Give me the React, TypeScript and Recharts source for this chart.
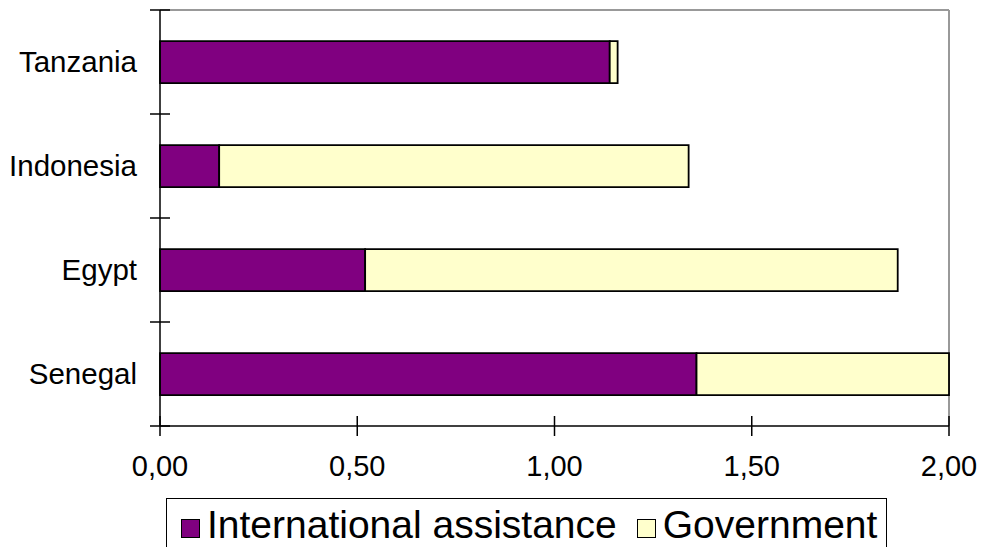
import { BarChart, Bar, XAxis, YAxis, Legend, CartesianGrid } from 'recharts';

const countries = ['Tanzania', 'Indonesia', 'Egypt', 'Senegal'];
const international = [1.14, 0.15, 0.52, 1.36];
const government = [0.02, 1.19, 1.35, 0.64];
const valueTicks = [0, 0.5, 1, 1.5, 2];
const legendOrder = ['International assistance', 'Government'];

const data = countries.map((country, i) => ({
  country,
  international: international[i],
  government: government[i],
}));

const FONT = '"Liberation Sans", Arial, sans-serif';

const fmt = (v: number) => v.toFixed(2).replace('.', ',');

// Excel-style: label at band centre, crossing ticks at band boundaries
function CountryTick(props: any) {
  const { x, y, payload, index, visibleTicksCount, height } = props;
  let half = height / (2 * visibleTicksCount);
  if (!isFinite(half)) half = 52;
  return (
    <g>
      <text x={x - 23} y={y} dy="0.355em" textAnchor="end" fontSize={29.5} fontFamily={FONT} fill="#000">
        {payload.value}
      </text>
      <line x1={x - 10} x2={x + 10} y1={y - half} y2={y - half} stroke="#000" strokeWidth={1.5} />
      {index === visibleTicksCount - 1 && (
        <line x1={x - 10} x2={x + 10} y1={y + half} y2={y + half} stroke="#000" strokeWidth={1.5} />
      )}
    </g>
  );
}

function ValueTick(props: any) {
  const { x, y, payload } = props;
  return (
    <g>
      <line x1={x} x2={x} y1={y - 10} y2={y + 10} stroke="#000" strokeWidth={1.5} />
      <text x={x} y={y + 50} textAnchor="middle" fontSize={29} fontFamily={FONT} fill="#000">
        {fmt(payload.value)}
      </text>
    </g>
  );
}

function LegendBox(props: any) {
  const items = [...(props.payload || [])].sort(
    (a: any, b: any) => legendOrder.indexOf(a.value) - legendOrder.indexOf(b.value)
  );
  return (
    <div
      style={{
        display: 'inline-block',
        whiteSpace: 'nowrap',
        border: '1px solid #000',
        background: '#fff',
        padding: '6px 9px 2px 14px',
        fontFamily: FONT,
        fontSize: 39,
        lineHeight: '40px',
        color: '#000',
      }}
    >
      {items.map((it: any, i: number) => (
        <span key={it.value}>
          <span
            style={{
              display: 'inline-block',
              boxSizing: 'border-box',
              width: 19,
              height: 19,
              background: it.color,
              border: '1.5px solid #000',
              marginLeft: i === 0 ? 0 : 20,
              marginRight: 7,
              verticalAlign: 'baseline',
            }}
          />
          {it.value}
        </span>
      ))}
    </div>
  );
}

export default function App() {
  return (
    <div style={{ position: 'absolute', left: 0, top: 0, width: 987, height: 547, overflow: 'hidden', background: '#fff' }}>
      <BarChart
        width={987}
        height={547}
        data={data}
        layout="vertical"
        margin={{ top: 10, right: 38, left: 0, bottom: 0 }}
        barCategoryGap="30%"
      >
        <CartesianGrid
          stroke="#999"
          strokeWidth={2}
          horizontalCoordinatesGenerator={({ offset }: any) => [offset.top]}
          verticalCoordinatesGenerator={({ offset }: any) => [offset.left + offset.width]}
        />
        <XAxis
          type="number"
          domain={[0, 2]}
          ticks={valueTicks}
          height={121}
          tickSize={0}
          tickMargin={0}
          tick={<ValueTick />}
          axisLine={{ stroke: '#000', strokeWidth: 1.5 }}
          tickLine={false}
        />
        <YAxis
          type="category"
          dataKey="country"
          width={160}
          tickSize={0}
          tickMargin={0}
          tickLine={false}
          axisLine={{ stroke: '#000', strokeWidth: 1.5 }}
          tick={<CountryTick />}
        />
        <Bar
          dataKey="international"
          name="International assistance"
          stackId="a"
          fill="#800080"
          stroke="#000"
          strokeWidth={1.8}
          isAnimationActive={false}
        />
        <Bar
          dataKey="government"
          name="Government"
          stackId="a"
          fill="#FFFFCC"
          stroke="#000"
          strokeWidth={1.8}
          isAnimationActive={false}
        />
        <Legend
          verticalAlign="middle"
          content={<LegendBox />}
          wrapperStyle={{ top: 498, left: 166, width: 'auto', height: 'auto' }}
        />
      </BarChart>
    </div>
  );
}
